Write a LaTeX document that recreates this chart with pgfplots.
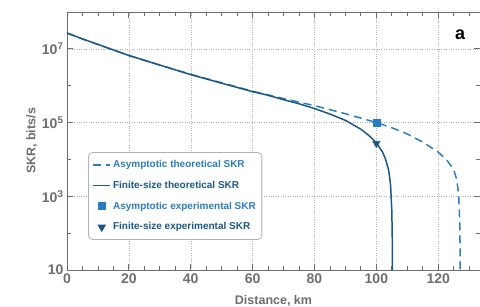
\documentclass[border=0pt]{standalone}
\usepackage{pgfplots}
\pgfplotsset{compat=1.18}
\usepackage{fontspec}
\setmainfont{Liberation Sans}
\definecolor{asym}{HTML}{2A7DC1}
\definecolor{fin}{HTML}{1B5886}
\definecolor{axgray}{HTML}{6E6E6E}
\begin{document}
\begin{tikzpicture}
\begin{semilogyaxis}[
 at={(0,0)}, anchor=south west, scale only axis, width=413pt, height=258pt,
 xmin=0, xmax=133.5, ymin=10, ymax=1e8,
 xtick={0,20,...,120}, minor xtick={5,10,...,130},
 ytick={10,1e3,1e5,1e7}, minor ytick={100,1e4,1e6,1e8},
 yticklabels={10,10\textsuperscript{3},10\textsuperscript{5},10\textsuperscript{7}},
 grid=major, major grid style={dotted, gray!60, thin},
 tick align=inside, major tick length=6pt, minor tick length=4pt,
 axis line style={axgray, line width=0.9pt},
 every tick/.style={axgray, line width=0.8pt},
 ticklabel style={font=\bfseries\fontsize{14}{16}\selectfont, text=axgray},
 /pgf/number format/assume math mode=true,
 xlabel={Distance, km}, ylabel={SKR, bits/s},
 label style={font=\bfseries\fontsize{12.5}{14}\selectfont, text=axgray},
 xlabel style={at={(axis description cs:0.5,0)}, yshift=-31pt, anchor=center},
 ylabel style={at={(axis description cs:-0.085,0.5)}, anchor=center},
 legend style={at={(axis description cs:0.051,0.457)}, anchor=north west,
   draw=gray!60, rounded corners=4pt, line width=0.8pt,
   font=\bfseries\fontsize{10}{12}\selectfont, row sep=8pt,
   inner xsep=4pt, inner ysep=6pt, cells={anchor=west}},
]
\addplot[asym, line width=1.5pt, dash pattern=on 8pt off 5pt] coordinates {
(0,2.69e7) (5,1.86e7) (10,1.32e7) (15,9.33e6) (20,6.61e6) (30,3.63e6)
(40,2.04e6) (50,1.20e6) (60,7.08e5) (70,4.47e5) (80,2.88e5) (90,1.74e5)
(100,1.0e5) (105,7.24e4) (110,4.9e4) (115,2.95e4) (120,1.58e4) (123,9.1e3)
(125,5.25e3) (126,2.82e3) (126.6,1.12e3) (127,158) (127.1,10)};
\addlegendentry{\textcolor{asym}{Asymptotic theoretical SKR}}
\addplot[fin, line width=1.5pt] coordinates {
(0,2.69e7) (5,1.86e7) (10,1.32e7) (15,9.33e6) (20,6.61e6) (30,3.63e6)
(40,2.0e6) (50,1.17e6) (60,6.9e5) (65,5.5e5) (70,4.17e5) (75,3.24e5)
(80,2.40e5) (85,1.70e5) (90,1.15e5) (95,6.6e4) (98,4.17e4) (100,2.82e4)
(102,1.58e4) (103,1e4) (104,5.0e3) (104.6,2.0e3) (105,398) (105.15,63) (105.2,10)};
\addlegendentry{\textcolor{fin}{Finite-size theoretical SKR}}
\addplot[only marks, mark=square*, mark size=3.5pt, color=asym] coordinates {(100,1e5)};
\addlegendentry{\textcolor{asym}{Asymptotic experimental SKR}}
\addplot[only marks, mark=triangle*, mark size=4.2pt, mark options={rotate=180}, color=fin] coordinates {(100,2.7e4)};
\addlegendentry{\textcolor{fin}{Finite-size experimental SKR}}
\node[font=\bfseries\fontsize{18}{20}\selectfont] at (axis description cs:0.952,0.911) {a};
\end{semilogyaxis}
\pgfresetboundingbox
\useasboundingbox (-67pt,-36pt) rectangle (413pt,270pt);
\end{tikzpicture}
\end{document}
